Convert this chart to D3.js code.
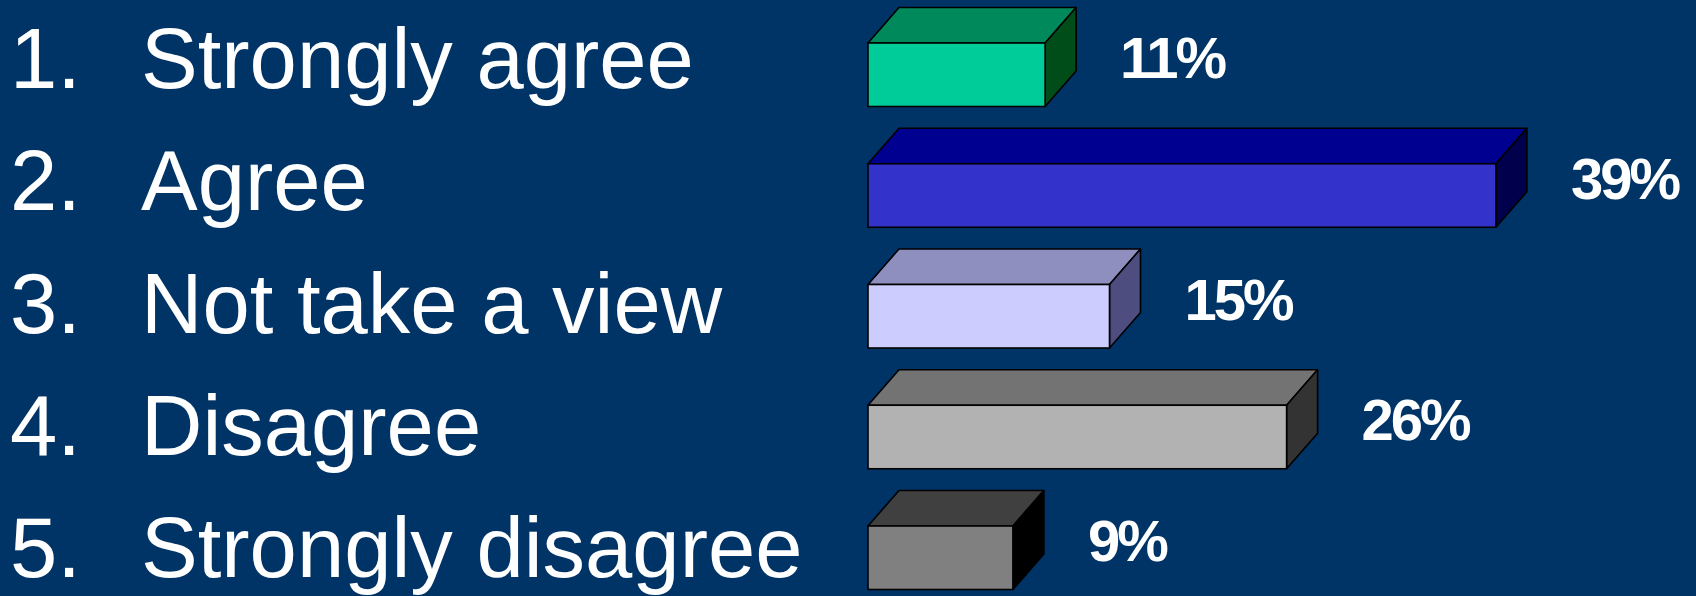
<!DOCTYPE html>
<html>
<head>
<meta charset="utf-8">
<script src="https://cdn.jsdelivr.net/npm/d3@7"></script>
<style>
  html, body { margin: 0; padding: 0; background: #003366; }
  svg { display: block; }
</style>
</head>
<body>
<svg id="chart" width="1696" height="596"></svg>
<script>
// ---- data ----
const categories = ["Strongly agree", "Agree", "Not take a view", "Disagree", "Strongly disagree"];
const values = [11, 39, 15, 26, 9];
const valueLabels = ["11%", "39%", "15%", "26%", "9%"];

// ---- styles ----
const frontColors = ["#00CC99", "#3333CC", "#CCCCFF", "#B2B2B2", "#808080"];
const topColors   = ["#008A5C", "#000090", "#8F8FBF", "#737373", "#404040"];
const sideColors  = ["#004D1A", "#00004D", "#4D4D80", "#333333", "#000000"];

const W = 1696, H = 596;
const svg = d3.select("#chart");
svg.append("rect").attr("width", W).attr("height", H).attr("fill", "#003366");

const x = d3.scaleLinear().domain([0, 40]).range([868, 1512]);
const y = d3.scaleBand().domain(categories).range([43, 589.5]).paddingInner(0.474).paddingOuter(0);
const yText = d3.scalePoint().domain(categories).range([88, 577]);

const dx = 31, dy = 35.5;

const rows = categories.map((c, i) => ({ c, i, v: values[i], label: valueLabels[i] }));

const g = svg.append("g");
const bars = g.selectAll("g.bar").data(rows).join("g").attr("class", "bar");

bars.append("path")
  .attr("d", d => {
    const x0 = x(0), x1 = x(d.v), y0 = y(d.c);
    return `M${x0},${y0} L${x0 + dx},${y0 - dy} L${x1 + dx},${y0 - dy} L${x1},${y0} Z`;
  })
  .attr("fill", d => topColors[d.i]).attr("stroke", "#000").attr("stroke-width", 1.6).attr("stroke-linejoin", "round");

bars.append("path")
  .attr("d", d => {
    const x1 = x(d.v), y0 = y(d.c), y1 = y0 + y.bandwidth();
    return `M${x1},${y0} L${x1 + dx},${y0 - dy} L${x1 + dx},${y1 - dy} L${x1},${y1} Z`;
  })
  .attr("fill", d => sideColors[d.i]).attr("stroke", "#000").attr("stroke-width", 1.6).attr("stroke-linejoin", "round");

bars.append("rect")
  .attr("x", x(0))
  .attr("y", d => y(d.c))
  .attr("width", d => x(d.v) - x(0))
  .attr("height", y.bandwidth())
  .attr("fill", d => frontColors[d.i]).attr("stroke", "#000").attr("stroke-width", 1.6);

bars.append("text")
  .attr("x", d => x(d.v) + dx + 44)
  .attr("y", d => y(d.c) + y.bandwidth() / 2 - dy / 2 + 21)
  .attr("fill", "#fff")
  .attr("font-family", "'Liberation Sans', Arial, sans-serif")
  .attr("font-weight", "bold")
  .attr("font-size", 58)
  .attr("letter-spacing", -3)
  .text(d => d.label);

// ---- left list ----
const list = svg.append("g").attr("fill", "#fff")
  .attr("font-family", "'Liberation Sans', Arial, sans-serif")
  .attr("font-size", 85);

list.selectAll("text.num").data(rows).join("text").attr("class", "num")
  .attr("x", 10).attr("y", d => yText(d.c)).text(d => (d.i + 1) + ".");

list.selectAll("text.cat").data(rows).join("text").attr("class", "cat")
  .attr("x", 141).attr("y", d => yText(d.c)).text(d => d.c);
</script>
</body>
</html>
